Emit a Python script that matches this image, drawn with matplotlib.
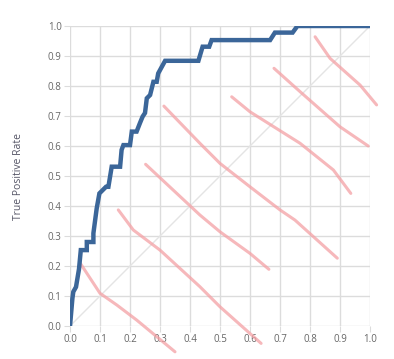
import numpy as np
import matplotlib.pyplot as plt

# ROC curve (false positive rate, true positive rate)
fpr = [0.0, 0.008, 0.011, 0.02, 0.025, 0.03, 0.036, 0.056, 0.056, 0.078, 0.078,
       0.089, 0.098, 0.12, 0.128, 0.139, 0.167, 0.172, 0.178, 0.2, 0.206, 0.222,
       0.233, 0.242, 0.25, 0.256, 0.267, 0.278, 0.289, 0.294, 0.306, 0.317,
       0.428, 0.442, 0.464, 0.472, 0.667, 0.683, 0.742, 0.758, 1.0]
tpr = [0.0, 0.092, 0.114, 0.13, 0.16, 0.19, 0.253, 0.253, 0.28, 0.28, 0.309,
       0.392, 0.442, 0.464, 0.464, 0.531, 0.531, 0.587, 0.603, 0.603, 0.648, 0.648,
       0.676, 0.698, 0.71, 0.759, 0.77, 0.814, 0.814, 0.842, 0.864, 0.884,
       0.884, 0.931, 0.931, 0.953, 0.953, 0.978, 0.978, 1.0, 1.0]

# hand-drawn iso lines
iso_x = [
    [0.033, 0.1, 0.156, 0.222, 0.35],
    [0.161, 0.211, 0.3, 0.433, 0.5, 0.637],
    [0.252, 0.433, 0.5, 0.6, 0.663],
    [0.313, 0.433, 0.5, 0.6, 0.7, 0.75, 0.811, 0.891],
    [0.539, 0.6, 0.767, 0.878, 0.936],
    [0.68, 0.767, 0.9, 0.994],
    [0.817, 0.867, 0.967, 1.022],
]
iso_y = [
    [0.211, 0.109, 0.07, 0.02, -0.086],
    [0.387, 0.32, 0.253, 0.131, 0.064, -0.058],
    [0.539, 0.37, 0.314, 0.242, 0.189],
    [0.733, 0.609, 0.542, 0.464, 0.387, 0.353, 0.298, 0.226],
    [0.764, 0.714, 0.609, 0.52, 0.442],
    [0.859, 0.781, 0.664, 0.60],
    [0.964, 0.892, 0.803, 0.737],
]

ticks = np.round(np.arange(0, 1.01, 0.1), 1)

plt.rcParams['font.family'] = ['Open Sans', 'DejaVu Sans']
fig = plt.figure(figsize=(3.94, 3.59), dpi=100)
ax = fig.add_axes([70 / 394, 33 / 359, 300 / 394, 300 / 359])

ax.plot([0, 1], [0, 1], color='#e4e4e4', linewidth=1, zorder=1)
for xs, ys in zip(iso_x, iso_y):
    ax.plot(xs, ys, color='#f4a0a4', linewidth=2.2, alpha=0.75,
            solid_capstyle='round', solid_joinstyle='round', clip_on=False, zorder=2)
ax.plot(fpr, tpr, color='#3b6699', linewidth=3.2, solid_joinstyle='miter', zorder=3)

ax.set_xlim(0, 1)
ax.set_ylim(0, 1)
ax.set_xticks(ticks)
ax.set_yticks(ticks)
ax.set_xticklabels([f'{t:.1f}' for t in ticks])
ax.set_yticklabels([f'{t:.1f}' for t in ticks])
ax.grid(True, color='#dcdcdc', linewidth=1)
ax.set_axisbelow(True)
for s in ax.spines.values():
    s.set_visible(False)
ax.tick_params(length=4, color='#dcdcdc', labelsize=7, labelcolor='#666666', pad=2)
ax.set_ylabel('True Positive Rate', fontsize=7.5, color='#555566', labelpad=17)

fig.savefig('out.png', dpi=100)
